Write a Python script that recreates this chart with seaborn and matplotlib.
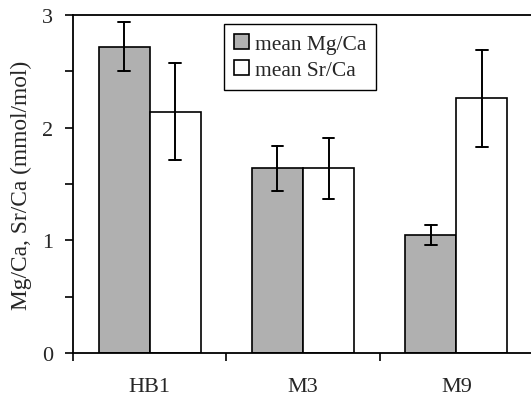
import matplotlib
matplotlib.use("Agg")
import matplotlib.pyplot as plt
from matplotlib.ticker import FixedLocator, MultipleLocator
import seaborn as sns
import pandas as pd

# Mean ratios per sample with their spread (mmol/mol)
sites = ["HB1", "M3", "M9"]
series = ["mean Mg/Ca", "mean Sr/Ca"]
mg_ca = [2.72, 1.64, 1.05]
mg_ca_err = [0.22, 0.20, 0.09]
sr_ca = [2.14, 1.64, 2.26]
sr_ca_err = [0.43, 0.27, 0.43]

# Two rows per bar (mean - err, mean + err): the bar height is their mean,
# and the error bar spans their min/max.
rows = []
for name, vals, errs in [(series[0], mg_ca, mg_ca_err), (series[1], sr_ca, sr_ca_err)]:
    for site, v, e in zip(sites, vals, errs):
        rows.append({"site": site, "series": name, "value": v - e})
        rows.append({"site": site, "series": name, "value": v + e})
df = pd.DataFrame(rows)

sns.set_theme(style="ticks")
plt.rcParams["font.family"] = ["Liberation Serif", "DejaVu Serif"]

fig = plt.figure(figsize=(5.31, 4.02), dpi=100)
ax = fig.add_axes([0.1375, 0.1194, 0.8663, 0.8408])

sns.barplot(
    data=df, x="site", y="value", hue="series", order=sites, hue_order=series,
    palette={series[0]: "#b0b0b0", series[1]: "white"},
    edgecolor="black", linewidth=1.2, width=2 / 3, gap=0,
    errorbar=lambda v: (v.min(), v.max()),
    err_kws={"color": "black", "linewidth": 1.4},
    capsize=0.15, ax=ax,
)

ax.set_ylim(0, 3)
ax.set_xlim(-0.5, 2.5)
ax.yaxis.set_major_locator(MultipleLocator(1))
ax.yaxis.set_minor_locator(MultipleLocator(0.5))
ax.tick_params(axis="y", which="both", direction="out", length=5.5, width=1.2,
               color="black", labelsize=16, pad=9)

# Category separators as ticks, labels centred between them
ax.xaxis.set_major_locator(FixedLocator([-0.5, 0.5, 1.5, 2.5]))
ax.xaxis.set_major_formatter(plt.NullFormatter())
ax.xaxis.set_minor_locator(FixedLocator([0, 1, 2]))
ax.set_xticklabels(sites, minor=True)
ax.tick_params(axis="x", which="major", direction="out", length=6, width=1.2, color="black")
ax.tick_params(axis="x", which="minor", length=0, labelsize=16, pad=17)

ax.set_xlabel("")
ax.set_ylabel("Mg/Ca, Sr/Ca (mmol/mol)", fontsize=16.8, labelpad=7)

for side in ["left", "bottom", "top"]:
    ax.spines[side].set_linewidth(1.3)
    ax.spines[side].set_color("black")
ax.spines["right"].set_visible(False)

leg = ax.legend(loc="upper left", bbox_to_anchor=(0.328, 0.973), fontsize=15.5,
                frameon=True, fancybox=False, edgecolor="black", framealpha=1,
                handlelength=0.7, handleheight=0.7, handletextpad=0.3,
                borderpad=0.45, labelspacing=0.3, borderaxespad=0)
leg.get_frame().set_linewidth(1.0)

fig.savefig("out.png", dpi=100)
